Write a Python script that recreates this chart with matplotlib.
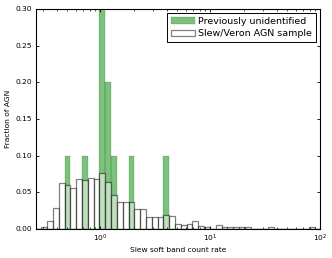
import numpy as np
import matplotlib
matplotlib.use("Agg")
import matplotlib.pyplot as plt

# ---- data ----
x_min = 0.2566          # lower edge of first bin
x_max = 100.0           # upper edge of last bin
n_bins = 49

# Slew/Veron AGN sample: fraction per log bin
slew_veron_frac = [
    0.0, 0.0026, 0.0104, 0.028, 0.063, 0.060, 0.0555, 0.068, 0.067, 0.070,
    0.068, 0.076, 0.0636, 0.047, 0.037, 0.037, 0.037, 0.027, 0.027, 0.016,
    0.016, 0.017, 0.0195, 0.018, 0.0068, 0.006, 0.007, 0.0105, 0.0036, 0.0026,
    0.0, 0.0055, 0.0026, 0.0026, 0.0026, 0.0026, 0.0026, 0.0, 0.0, 0.0,
    0.0026, 0.0, 0.0, 0.0, 0.0, 0.0, 0.0, 0.0026, 0.0,
]
# Previously unidentified sources: fraction per log bin
prev_unid_frac = [
    0.0, 0.0, 0.0, 0.0, 0.0, 0.1, 0.0, 0.0, 0.1, 0.0,
    0.0, 0.3, 0.2, 0.1, 0.0, 0.0, 0.1, 0.0, 0.0, 0.0,
    0.0, 0.0, 0.1, 0.0, 0.0, 0.0, 0.0, 0.0, 0.0, 0.0,
    0.0, 0.0, 0.0, 0.0, 0.0, 0.0, 0.0, 0.0, 0.0, 0.0,
    0.0, 0.0, 0.0, 0.0, 0.0, 0.0, 0.0, 0.0, 0.0,
]
labels = ["Previously unidentified", "Slew/Veron AGN sample"]
y_ticks = [0.00, 0.05, 0.10, 0.15, 0.20, 0.25, 0.30]

# ---- style ----
plt.style.use("classic")
plt.rcParams.update({
    "font.family": ["DejaVu Sans"],
    "font.size": 5.4,
    "figure.facecolor": "white",
    "savefig.facecolor": "white",
    "axes.linewidth": 0.8,
    "xtick.major.size": 2.5, "xtick.minor.size": 1.3,
    "ytick.major.size": 2.5, "ytick.minor.size": 1.3,
    "xtick.major.width": 0.6, "xtick.minor.width": 0.5,
    "ytick.major.width": 0.6, "ytick.minor.width": 0.5,
    "xtick.major.pad": 3.0, "xtick.minor.pad": 3.0,
    "ytick.major.pad": 2.5, "ytick.minor.pad": 2.5,
})

edges = np.logspace(np.log10(x_min), np.log10(x_max), n_bins + 1)
centers = np.sqrt(edges[:-1] * edges[1:])

fig = plt.figure(figsize=(3.32, 2.58), dpi=100)
ax = fig.add_axes([0.107, 0.1124, 0.858, 0.8527])

ax.hist(centers, bins=edges, weights=prev_unid_frac, facecolor="g",
        edgecolor="g", alpha=0.5, linewidth=0.3, label=labels[0])
ax.hist(centers, bins=edges, weights=slew_veron_frac, facecolor="white",
        edgecolor="k", alpha=0.5, linewidth=0.9, label=labels[1])

ax.set_xscale("log")
ax.set_xlim(x_min, x_max)
ax.set_ylim(0, 0.30)
ax.set_yticks(y_ticks)
ax.set_yticklabels([f"{v:.2f}" for v in y_ticks])
ax.set_xlabel("Slew soft band count rate", labelpad=2)
ax.set_ylabel("Fraction of AGN", labelpad=3)

leg = ax.legend(loc="upper right", handlelength=2.5, handletextpad=0.4,
                labelspacing=0.35, borderpad=0.4, borderaxespad=0.45,
                fontsize=6.8)
leg.get_frame().set_linewidth(0.7)

fig.savefig("out.png", dpi=100)
